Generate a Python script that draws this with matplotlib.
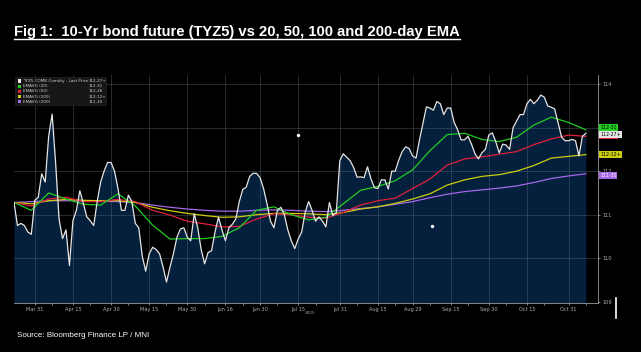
import matplotlib
matplotlib.use('Agg')
import matplotlib.pyplot as plt
from matplotlib import font_manager
from matplotlib.lines import Line2D
from matplotlib.patches import Rectangle
import numpy as np
import pandas as pd

# trading days shown on the chart
days = pd.bdate_range('2025-03-21', '2025-11-07')

# TYZ5 last price (one value per trading day)
price = [
    111.28, 110.75, 110.80, 110.75, 110.60, 110.55, 111.33, 111.40, 111.94, 111.75,
    112.80, 113.31, 112.20, 110.90, 110.45, 110.65, 109.83, 110.86, 111.10, 111.55,
    111.26, 110.95, 110.86, 110.75, 111.30, 111.75, 112.00, 112.20, 112.20, 112.00,
    111.60, 111.10, 111.10, 111.45, 111.30, 110.80, 110.70, 110.05, 109.70, 110.10,
    110.25, 110.20, 110.10, 109.80, 109.45, 109.79, 110.10, 110.48, 110.67, 110.70,
    110.48, 110.40, 111.02, 110.70, 110.20, 109.87, 110.13, 110.17, 110.60, 110.94,
    110.65, 110.40, 110.70, 110.78, 110.90, 111.30, 111.58, 111.63, 111.88, 111.95,
    111.95, 111.85, 111.60, 111.25, 110.85, 110.70, 111.10, 111.17, 111.00, 110.65,
    110.40, 110.22, 110.44, 110.60, 111.05, 111.30, 111.10, 110.85, 110.95, 110.85,
    110.72, 111.28, 110.98, 111.05, 112.24, 112.40, 112.32, 112.24, 112.08, 111.86,
    111.87, 111.85, 112.10, 111.82, 111.62, 111.60, 111.80, 111.80, 111.59, 112.00,
    112.00, 112.25, 112.45, 112.56, 112.52, 112.35, 112.30, 112.72, 113.10, 113.48,
    113.45, 113.40, 113.60, 113.55, 113.30, 113.45, 113.45, 113.12, 112.95, 112.72,
    112.72, 112.80, 112.62, 112.40, 112.28, 112.42, 112.50, 112.83, 112.88, 112.68,
    112.42, 112.62, 112.60, 112.50, 113.00, 113.15, 113.30, 113.30, 113.55, 113.65,
    113.55, 113.63, 113.75, 113.70, 113.50, 113.47, 113.43, 113.10, 112.78, 112.70,
    112.70, 112.73, 112.70, 112.35, 112.80, 112.87,
]

# EMAs read every 5 trading days
ema_idx = list(range(0, 166, 5))
ema20 = [111.28, 111.10, 111.50, 111.36, 111.24, 111.22, 111.48, 111.20, 110.76, 110.44,
         110.45, 110.45, 110.50, 110.70, 111.10, 111.18, 111.00, 110.88, 110.94, 111.25,
         111.56, 111.65, 111.78, 112.03, 112.47, 112.84, 112.87, 112.73, 112.68, 112.78,
         113.06, 113.24, 113.12, 112.95]
ema50 = [111.28, 111.20, 111.36, 111.40, 111.30, 111.30, 111.35, 111.30, 111.10, 110.99,
         110.85, 110.79, 110.72, 110.73, 110.90, 111.02, 111.00, 110.94, 110.92, 111.05,
         111.22, 111.32, 111.38, 111.60, 111.82, 112.14, 112.28, 112.33, 112.39, 112.45,
         112.61, 112.74, 112.83, 112.80]
ema100 = [111.28, 111.25, 111.32, 111.35, 111.33, 111.32, 111.32, 111.28, 111.17, 111.09,
          111.03, 110.98, 110.94, 110.95, 111.00, 111.03, 111.03, 111.02, 111.00, 111.05,
          111.13, 111.18, 111.26, 111.36, 111.48, 111.68, 111.80, 111.88, 111.92, 112.00,
          112.13, 112.30, 112.34, 112.38]
ema200 = [111.28, 111.30, 111.32, 111.32, 111.32, 111.31, 111.30, 111.28, 111.22, 111.17,
          111.13, 111.10, 111.08, 111.08, 111.10, 111.11, 111.10, 111.08, 111.07, 111.10,
          111.14, 111.18, 111.24, 111.30, 111.39, 111.47, 111.53, 111.57, 111.61, 111.66,
          111.74, 111.83, 111.89, 111.94]

series_names = ['TYZ5 COMB Comdty - Last Price', 'EMAVG (20)', 'EMAVG (50)',
                'EMAVG (100)', 'EMAVG (200)']
last_labels = ['112-27+', '112-31', '112-26', '112-12+', '111-30']
last_values = [112.86, 112.97, 112.81, 112.39, 111.94]
colors = ['#e6e6e6', '#22cc22', '#e0203c', '#cccc10', '#a468e8']

date_ticks = ['2025-03-31', '2025-04-15', '2025-04-30', '2025-05-15', '2025-05-30',
              '2025-06-16', '2025-06-30', '2025-07-15', '2025-07-31', '2025-08-15',
              '2025-08-29', '2025-09-15', '2025-09-30', '2025-10-15', '2025-10-31']
date_tick_labels = ['Mar 31', 'Apr 15', 'Apr 30', 'May 15', 'May 30', 'Jun 16', 'Jun 30',
                    'Jul 15', 'Jul 31', 'Aug 15', 'Aug 29', 'Sep 15', 'Sep 30', 'Oct 15',
                    'Oct 31']
y_ticks = [109, 110, 111, 112, 113, 114]
# the 113 label sits behind the last-value tags in the reference
y_tick_labels = ['109', '110', '111', '112', '', '114']
# stray white dots on the chart
dots_x = [81.9, 120.6]
dots_y = [112.84, 110.75]

avail = {f.name for f in font_manager.fontManager.ttflist}
narrow = 'Liberation Sans Narrow' if 'Liberation Sans Narrow' in avail else 'Liberation Sans'

W, H = 641, 352
fig = plt.figure(figsize=(W / 100, H / 100), dpi=100, facecolor='black')
ax = fig.add_axes([14 / W, 1 - 303 / H, 584 / W, 228 / H])
ax.set_facecolor('black')

x = np.arange(len(days))
ax.set_xlim(0, 168.5)
ax.set_ylim(108.97, 114.21)

ax.fill_between(x, price, 108.97, color='#04203d', zorder=1, lw=0)

tick_pos = [days.get_loc(pd.Timestamp(d)) for d in date_ticks]
for t in tick_pos:
    ax.axvline(t, color='#5a6573', lw=0.6, alpha=0.5, zorder=2)
for v in y_ticks[1:]:
    ax.axhline(v, color='#5a6573', lw=0.6, alpha=0.5, zorder=2)

for vals, c in zip([ema200, ema100, ema50, ema20], colors[:0:-1]):
    ax.plot(ema_idx, vals, color=c, lw=0.9, zorder=3)
ax.plot(x, price, color=colors[0], lw=0.9, zorder=4)
ax.scatter(dots_x, dots_y, s=6, color='white', zorder=5, lw=0)

# axes styling
for s in ['top', 'left']:
    ax.spines[s].set_visible(False)
ax.spines['bottom'].set_color('#9a9a9a')
ax.spines['right'].set_color('#9a9a9a')
ax.spines['bottom'].set_linewidth(0.6)
ax.spines['right'].set_linewidth(0.6)
ax.yaxis.tick_right()
ax.set_yticks(y_ticks)
ax.set_yticklabels(y_tick_labels)
ax.set_xticks(tick_pos)
ax.set_xticklabels(date_tick_labels)
ax.set_xticks([p + 5 for p in tick_pos], minor=True)
ax.tick_params(axis='both', colors='#b0b0b0', labelsize=3.6, length=1.5, width=0.5, pad=1.5)
ax.tick_params(axis='x', which='minor', colors='#b0b0b0', length=1.2, width=0.5)
ax.text(days.get_loc(pd.Timestamp('2025-07-15')) + 2, -0.035, '2025', transform=ax.get_xaxis_transform(),
        color='#a0a0a0', fontsize=3, va='top')

# last value tags on the right (small vertical nudges so they stack like Bloomberg's)
tag_order = [4, 3, 2, 1, 0]
tag_nudge = {0: -0.6, 1: 1.2, 2: 0, 3: 0, 4: -1.0}
for k in tag_order:
    tc = 'black' if k in (0, 1, 3) else 'white'
    ax.annotate(last_labels[k], xy=(1.0, last_values[k]), xycoords=('axes fraction', 'data'),
                xytext=(1.5, tag_nudge[k]), textcoords='offset points', va='center',
                ha='left', fontsize=3.3, color=tc, annotation_clip=False, zorder=6,
                bbox=dict(boxstyle='square,pad=0.2', fc=colors[k], ec='none'))

# legend box top left
def ax_x(px):
    return (px - 14) / 584

def ax_y(py):
    return (303 - py) / 228

ax.add_patch(Rectangle((ax_x(15), ax_y(105)), ax_x(106) - ax_x(15), ax_y(77) - ax_y(105),
                       transform=ax.transAxes, fc='#161616', ec='#2a2a2a', lw=0.4, zorder=7))
for k, name in enumerate(series_names):
    py = 81 + k * 5.2
    ax.add_patch(Rectangle((ax_x(17.5), ax_y(py + 1.6)), ax_x(20.5) - ax_x(17.5),
                           ax_y(py - 1.6) - ax_y(py + 1.6), transform=ax.transAxes,
                           fc=colors[k], ec='none', zorder=8))
    ax.text(ax_x(23), ax_y(py), name, transform=ax.transAxes, fontsize=3, color='#d0d0d0',
            va='center', zorder=8)
    ax.text(ax_x(89), ax_y(py), last_labels[k], transform=ax.transAxes, fontsize=3,
            color='#d0d0d0', va='center', zorder=8)

# title and source
title = fig.text(14 / W, 1 - 36 / H, 'Fig 1:  10-Yr bond future (TYZ5) vs 20, 50, 100 and 200-day EMA',
                 color='white', fontsize=12, fontweight='bold', family=[narrow, 'DejaVu Sans'],
                 va='baseline')
source = fig.text(17 / W, 1 - 337 / H, 'Source: Bloomberg Finance LP / MNI', color='white',
                  fontsize=8, family=[narrow, 'DejaVu Sans'], va='baseline')

fig.canvas.draw()
r = fig.canvas.get_renderer()
for t, target in [(title, 444), (source, 133)]:
    w = t.get_window_extent(r).width
    t.set_fontsize(t.get_fontsize() * target / w)
fig.canvas.draw()
bb = title.get_window_extent(r)
fig.add_artist(Line2D([bb.x0 / W, bb.x1 / W], [1 - 38.5 / H, 1 - 38.5 / H], color='white', lw=1.0))
# stray mark at right
fig.add_artist(Line2D([616 / W, 616 / W], [1 - 298 / H, 1 - 318 / H], color='white', lw=1.2))

fig.savefig('out.png', dpi=100, facecolor='black')
